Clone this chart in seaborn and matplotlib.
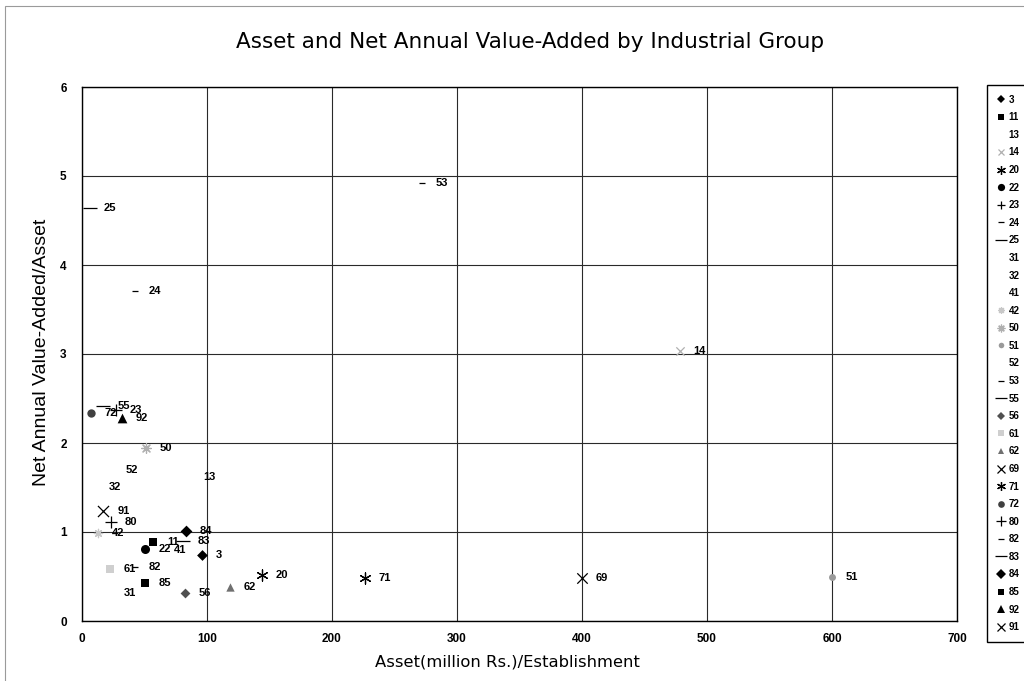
import matplotlib
matplotlib.use("Agg")
import matplotlib.pyplot as plt
from matplotlib.lines import Line2D
from matplotlib.patches import Rectangle
import seaborn as sns
import pandas as pd

# Industrial group codes, in legend order
groups = ['3', '11', '13', '14', '20', '22', '23', '24', '25', '31', '32', '41', '42', '50',
          '51', '52', '53', '55', '56', '61', '62', '69', '71', '72', '80', '82', '83', '84',
          '85', '92', '91']
# Asset (million Rs.) per establishment
asset = [96, 57, 86, 478, 144, 50, 27, 42, 6, 22, 10, 62, 13, 51,
         600, 24, 272, 17, 82, 22, 118, 400, 226, 7, 23, 42, 81, 83,
         50, 32, 17]
# Net annual value-added / asset
value_added = [0.74, 0.89, 1.62, 3.03, 0.52, 0.81, 2.37, 3.71, 4.64, 0.31, 1.50, 0.80, 0.99, 1.94,
               0.49, 1.70, 4.92, 2.42, 0.31, 0.58, 0.38, 0.48, 0.48, 2.34, 1.11, 0.61, 0.90, 1.01,
               0.43, 2.28, 1.24]

x_ticks = [0, 100, 200, 300, 400, 500, 600, 700]
y_ticks = [0, 1, 2, 3, 4, 5, 6]

df = pd.DataFrame({"group": groups, "asset": asset, "va": value_added})

# marker, colour, size (points)
STAR6 = (6, 2, 0)
STAR8 = (8, 2, 0)
LINE_MARKERS = ('x', '+', '_', STAR6, STAR8)
style = {
    '3': ('D', 'black', 5.5), '11': ('s', 'black', 6), '13': (None, 'black', 0),
    '14': ('x', '#b0b0b0', 6), '20': (STAR6, 'black', 8), '22': ('o', 'black', 6.5),
    '23': ('+', 'black', 8), '24': ('_', 'black', 5), '25': ('_', 'black', 10),
    '31': (None, 'black', 0), '32': (None, 'black', 0), '41': (None, 'black', 0),
    '42': (STAR8, '#c8c8c8', 6), '50': (STAR8, '#b0b0b0', 7), '51': ('o', '#9a9a9a', 5),
    '52': (None, 'black', 0), '53': ('_', 'black', 5), '55': ('_', 'black', 10),
    '56': ('D', '#505050', 5), '61': ('s', '#cfcfcf', 6), '62': ('^', '#707070', 6),
    '69': ('x', 'black', 7.5), '71': (STAR6, 'black', 8), '72': ('o', '#404040', 6),
    '80': ('+', 'black', 8.5), '82': ('_', 'black', 5), '83': ('_', 'black', 10),
    '84': ('D', 'black', 6), '85': ('s', 'black', 6), '92': ('^', 'black', 7),
    '91': ('x', 'black', 8),
}

sns.set_theme(style="white")
plt.rcParams['font.family'] = ['Liberation Sans', 'DejaVu Sans']
plt.rcParams['text.color'] = 'black'
plt.rcParams['xtick.color'] = 'black'
plt.rcParams['ytick.color'] = 'black'

fig = plt.figure(figsize=(10.24, 6.81), dpi=100)
ax = fig.add_axes([82 / 1024, 1 - 621 / 681, 875 / 1024, 534 / 681])

for _, row in df.iterrows():
    mk, col, ms = style[row["group"]]
    if mk is not None:
        sns.scatterplot(x=[row["asset"]], y=[row["va"]], ax=ax, marker=mk, color=col,
                        s=ms ** 2, linewidth=0.9 if mk in LINE_MARKERS else 0,
                        edgecolor=col, zorder=3, legend=False)
    ax.annotate(row["group"], (row["asset"], row["va"]), xytext=(10, 0),
                textcoords="offset points", ha="left", va="center",
                fontsize=8, fontweight="bold", color="black", zorder=4)

ax.set_xlim(0, 700)
ax.set_ylim(0, 6)
ax.set_xticks(x_ticks)
ax.set_yticks(y_ticks)
ax.set_xticklabels([str(t) for t in x_ticks], fontsize=8.5, fontweight="bold")
ax.set_yticklabels([str(t) for t in y_ticks], fontsize=8.5, fontweight="bold")
ax.tick_params(axis="x", length=0, pad=9)
ax.tick_params(axis="y", length=0, pad=11)
ax.grid(True, color="#2a2a2a", linewidth=0.8)
ax.set_axisbelow(True)
for sp in ax.spines.values():
    sp.set_color("black")
    sp.set_linewidth(1.0)
ax.set_xlabel("")
ax.set_ylabel("")

fig.text(530 / 1024, 1 - 42 / 681, "Asset and Net Annual Value-Added by Industrial Group",
         ha="center", va="center", fontsize=15.5, color="black", family=["DejaVu Sans"])
fig.text(507 / 1024, 1 - 662 / 681, "Asset(million Rs.)/Establishment",
         ha="center", va="center", fontsize=11.8, color="black", family=["DejaVu Sans"])
fig.text(42 / 1024, 1 - 352 / 681, "Net Annual Value-Added/Asset", rotation=90,
         ha="center", va="center", fontsize=14, color="black",
         family=["Liberation Sans Narrow", "Liberation Sans", "DejaVu Sans"])

# outer chart frame
fig.patches.append(Rectangle((5 / 1024, -0.01), 1.0, 1 - 6 / 681 + 0.01,
                             transform=fig.transFigure, fill=False,
                             edgecolor="#9a9a9a", linewidth=0.8))

handles = []
for g in groups:
    mk, col, ms = style[g]
    if mk is None:
        h = Line2D([], [], linestyle="none", marker="", color=col)
    else:
        h = Line2D([], [], linestyle="none", marker=mk, color=col, markersize=ms * 0.8,
                   markeredgewidth=0.9 if mk in LINE_MARKERS else 0)
    handles.append(h)
fig.legend(handles, groups, loc="upper left", bbox_to_anchor=(987 / 1024, 1 - 85 / 681),
           prop={"weight": "bold", "size": 7}, frameon=True, fancybox=False,
           edgecolor="black", framealpha=1, borderpad=1.0, labelspacing=0.78,
           handlelength=0.9, handletextpad=0.3, borderaxespad=0)

fig.savefig("out.png", dpi=100)
